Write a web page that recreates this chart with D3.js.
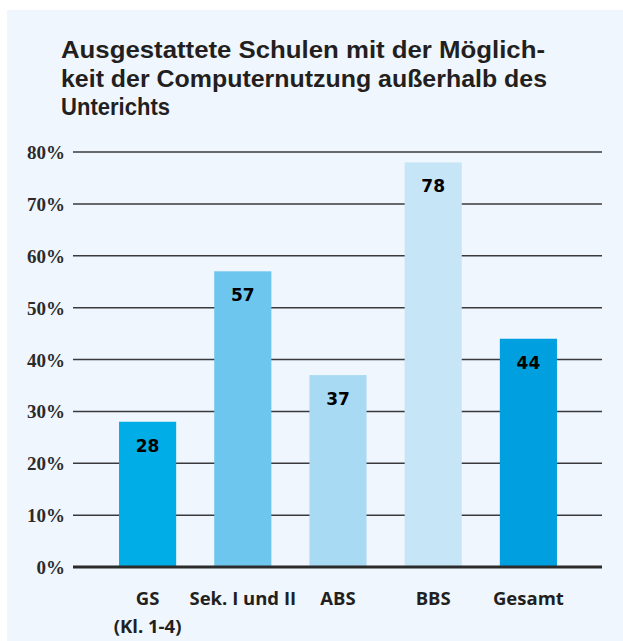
<!DOCTYPE html>
<html>
<head>
<meta charset="utf-8">
<script src="https://cdn.jsdelivr.net/npm/d3@7"></script>
<style>
  body { margin: 0; background: #fff; }
  svg { display: block; }
</style>
</head>
<body>
<svg id="chart" width="623" height="641"></svg>
<script>
// chart data
const categories = ['GS', 'Sek. I und II', 'ABS', 'BBS', 'Gesamt'];
const subLabels = ['(Kl. 1-4)', '', '', '', ''];
const values = [28, 57, 37, 78, 44];
const barColors = ['#00ade6', '#6dc6ee', '#a9daf3', '#c6e5f7', '#00a0e0'];
const yTicks = [0, 10, 20, 30, 40, 50, 60, 70, 80];
const titleLines = [
    'Ausgestattete Schulen mit der Möglich-',
    'keit der Computernutzung außerhalb des',
    'Unterichts'
];
const titleWidths = [484, 486, 109];

const svg = d3.select('#chart');

// light blue panel
svg.append('rect')
    .attr('x', 7).attr('y', 10)
    .attr('width', 616).attr('height', 631)
    .attr('fill', '#eff6fd');

// title, one text per line so the lines don't overlap
const title = svg.append('g')
    .attr('font-family', 'Liberation Sans, Arial, sans-serif')
    .attr('font-weight', 700)
    .attr('font-size', '24px')
    .attr('fill', '#231f20');
titleLines.forEach((line, i) => {
    title.append('text')
        .attr('x', 61)
        .attr('y', 58 + i * 28.5)
        .attr('textLength', titleWidths[i])
        .attr('lengthAdjust', 'spacingAndGlyphs')
        .text(line);
});

const x = d3.scaleBand()
    .domain(categories)
    .range([100, 576])
    .paddingInner(0.4)
    .paddingOuter(0.2);

const y = d3.scaleLinear()
    .domain([0, 80])
    .range([567, 152]);

// grid lines
svg.append('g')
    .selectAll('line')
    .data(yTicks.filter(d => d > 0))
    .join('line')
    .attr('x1', 73).attr('x2', 602)
    .attr('y1', d => y(d)).attr('y2', d => y(d))
    .attr('stroke', '#3a3a3c')
    .attr('stroke-width', 1.5);

// y tick labels
svg.append('g')
    .selectAll('text')
    .data(yTicks)
    .join('text')
    .attr('x', 65)
    .attr('y', d => y(d) + 7)
    .attr('text-anchor', 'end')
    .attr('font-family', 'Liberation Serif, serif')
    .attr('font-weight', 700)
    .attr('font-size', '19px')
    .attr('fill', '#2b2b2b')
    .text(d => d + '%');

// bars
svg.append('g')
    .selectAll('rect')
    .data(values)
    .join('rect')
    .attr('x', (d, i) => x(categories[i]))
    .attr('y', d => y(d))
    .attr('width', x.bandwidth())
    .attr('height', d => y(0) - y(d))
    .attr('fill', (d, i) => barColors[i]);

// baseline
svg.append('line')
    .attr('x1', 73).attr('x2', 602)
    .attr('y1', y(0)).attr('y2', y(0))
    .attr('stroke', '#2b2b2b')
    .attr('stroke-width', 3);

// value labels inside bars
svg.append('g')
    .selectAll('text')
    .data(values)
    .join('text')
    .attr('x', (d, i) => x(categories[i]) + x.bandwidth() / 2)
    .attr('y', d => y(d) + 30)
    .attr('text-anchor', 'middle')
    .attr('font-family', 'DejaVu Sans, sans-serif')
    .attr('font-weight', 700)
    .attr('font-size', '17px')
    .attr('fill', '#000')
    .text(d => d);

// category labels
const catG = svg.append('g')
    .attr('font-family', 'Open Sans, sans-serif')
    .attr('font-weight', 700)
    .attr('font-size', '18.5px')
    .attr('fill', '#231f20')
    .attr('text-anchor', 'middle');
categories.forEach((c, i) => {
    const cx = x(c) + x.bandwidth() / 2;
    catG.append('text').attr('x', cx).attr('y', 605).text(c);
    if (subLabels[i]) {
        catG.append('text').attr('x', cx).attr('y', 633).text(subLabels[i]);
    }
});
</script>
</body>
</html>
